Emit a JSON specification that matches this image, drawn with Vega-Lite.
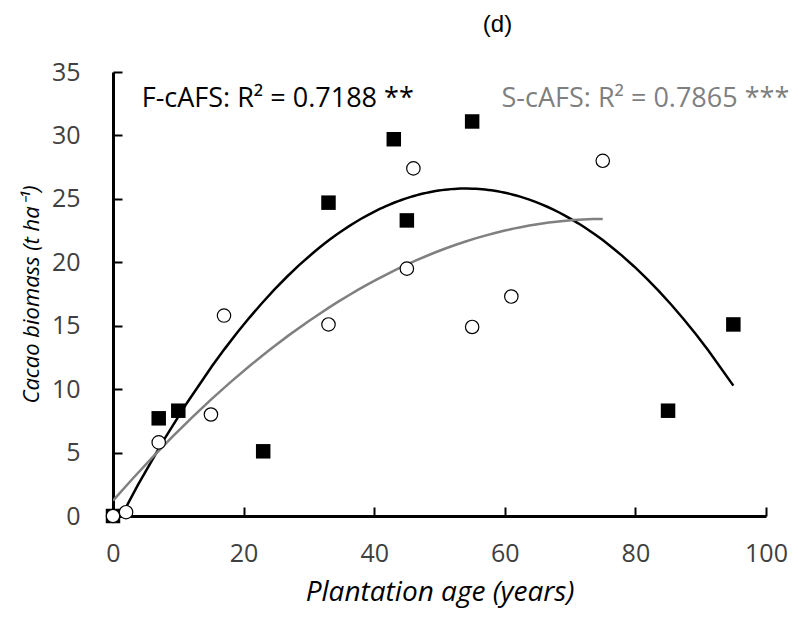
{
  "$schema": "https://vega.github.io/schema/vega-lite/v6.json",
  "width": 653,
  "height": 444,
  "autosize": {"type": "none"},
  "padding": {"left": 113, "top": 72, "right": 32, "bottom": 112},
  "background": "white",
  "config": {
    "view": {"stroke": null},
    "font": "Open Sans",
    "axis": {
      "grid": false,
      "domainColor": "black",
      "domainWidth": 3,
      "tickColor": "black",
      "tickWidth": 2,
      "tickSize": -9,
      "labelFlush": false,
      "labelFont": "Open Sans",
      "labelFontSize": 25,
      "labelColor": "#404040",
      "titleFont": "Open Sans",
      "titleFontStyle": "italic",
      "titleFontWeight": "normal",
      "titleColor": "black"
    }
  },
  "title": {
    "text": "(d)",
    "font": "Liberation Sans",
    "fontSize": 24,
    "fontWeight": "normal",
    "color": "black",
    "anchor": "middle",
    "offset": 23,
    "dx": 58
  },
  "data": {
    "values": [
      {"series": "F-cAFS", "age": 0, "biomass": 0},
      {"series": "F-cAFS", "age": 7, "biomass": 7.7},
      {"series": "F-cAFS", "age": 10, "biomass": 8.3},
      {"series": "F-cAFS", "age": 23, "biomass": 5.1},
      {"series": "F-cAFS", "age": 33, "biomass": 24.7},
      {"series": "F-cAFS", "age": 43, "biomass": 29.7},
      {"series": "F-cAFS", "age": 45, "biomass": 23.3},
      {"series": "F-cAFS", "age": 55, "biomass": 31.1},
      {"series": "F-cAFS", "age": 85, "biomass": 8.3},
      {"series": "F-cAFS", "age": 95, "biomass": 15.1},
      {"series": "S-cAFS", "age": 0, "biomass": 0},
      {"series": "S-cAFS", "age": 2, "biomass": 0.3},
      {"series": "S-cAFS", "age": 7, "biomass": 5.8},
      {"series": "S-cAFS", "age": 15, "biomass": 8.0},
      {"series": "S-cAFS", "age": 17, "biomass": 15.8},
      {"series": "S-cAFS", "age": 33, "biomass": 15.1},
      {"series": "S-cAFS", "age": 45, "biomass": 19.5},
      {"series": "S-cAFS", "age": 46, "biomass": 27.4},
      {"series": "S-cAFS", "age": 55, "biomass": 14.9},
      {"series": "S-cAFS", "age": 61, "biomass": 17.3},
      {"series": "S-cAFS", "age": 75, "biomass": 28.0}
    ]
  },
  "encoding": {
    "x": {
      "field": "age",
      "type": "quantitative",
      "scale": {"domain": [0, 100], "nice": false},
      "axis": {"values": [0, 20, 40, 60, 80, 100], "labelPadding": 34, "title": "Plantation age (years)", "titleFontSize": 28, "titlePadding": 12}
    },
    "y": {
      "field": "biomass",
      "type": "quantitative",
      "scale": {"domain": [0, 35], "nice": false},
      "axis": {"values": [0, 5, 10, 15, 20, 25, 30, 35], "labelPadding": 42, "title": "Cacao biomass  (t ha⁻¹)", "titleFontSize": 22, "titlePadding": 8}
    }
  },
  "layer": [
    {
      "transform": [
        {"regression": "biomass", "on": "age", "method": "poly", "order": 2, "groupby": ["series"]}
      ],
      "mark": {"type": "line", "strokeWidth": 2.5, "clip": true},
      "encoding": {
        "color": {"field": "series", "type": "nominal", "scale": {"domain": ["F-cAFS", "S-cAFS"], "range": ["black", "#808080"]}, "legend": null}
      }
    },
    {
      "transform": [{"filter": "datum.series === 'F-cAFS'"}],
      "mark": {"type": "point", "shape": "square", "size": 210, "filled": true, "color": "black", "opacity": 1}
    },
    {
      "transform": [{"filter": "datum.series === 'S-cAFS'"}],
      "mark": {"type": "point", "shape": "circle", "size": 180, "filled": false, "fill": "white", "fillOpacity": 1, "stroke": "black", "strokeWidth": 1.2, "opacity": 1}
    },
    {
      "data": {"values": [{"lx": 4.4, "ly": 32.25}]},
      "mark": {"type": "text", "text": "F-cAFS: R² = 0.7188 **", "align": "left", "baseline": "alphabetic", "fontSize": 27, "color": "black"},
      "encoding": {"x": {"field": "lx", "type": "quantitative"}, "y": {"field": "ly", "type": "quantitative"}}
    },
    {
      "data": {"values": [{"lx": 59.5, "ly": 32.25}]},
      "mark": {"type": "text", "text": "S-cAFS: R² = 0.7865 ***", "align": "left", "baseline": "alphabetic", "fontSize": 27, "color": "#7f7f7f"},
      "encoding": {"x": {"field": "lx", "type": "quantitative"}, "y": {"field": "ly", "type": "quantitative"}}
    }
  ]
}
